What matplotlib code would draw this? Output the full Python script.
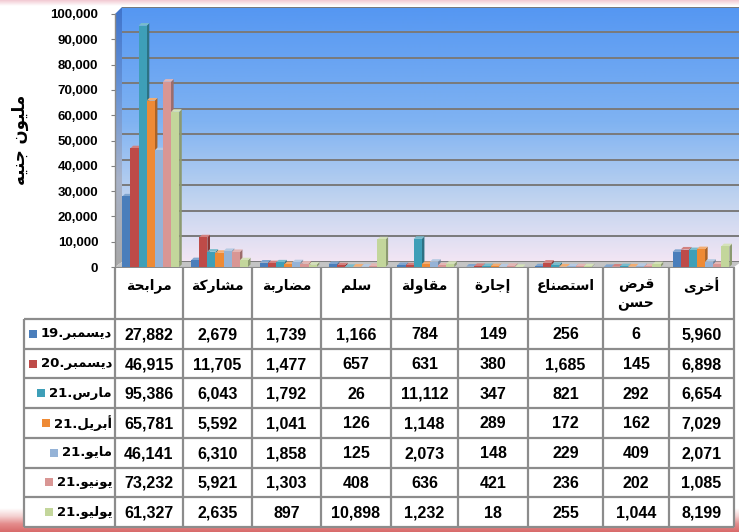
import numpy as np
import matplotlib
matplotlib.use("Agg")
import matplotlib.pyplot as plt
from matplotlib.patches import Polygon, Rectangle
from matplotlib.colors import LinearSegmentedColormap, to_rgb
from matplotlib.ticker import FuncFormatter


# data (million EGP), one list per month, categories in table order
categories = ['مرابحة', 'مشاركة', 'مضاربة', 'سلم', 'مقاولة', 'إجارة', 'استصناع', 'قرض حسن', 'أخرى']
months = ['ديسمبر', 'ديسمبر', 'مارس', 'أبريل', 'مايو', 'يونيو', 'يوليو']
years = ['19', '20', '21', '21', '21', '21', '21']

dec19 = [27882, 2679, 1739, 1166, 784, 149, 256, 6, 5960]
dec20 = [46915, 11705, 1477, 657, 631, 380, 1685, 145, 6898]
mar21 = [95386, 6043, 1792, 26, 11112, 347, 821, 292, 6654]
apr21 = [65781, 5592, 1041, 126, 1148, 289, 172, 162, 7029]
may21 = [46141, 6310, 1858, 125, 2073, 148, 229, 409, 2071]
jun21 = [73232, 5921, 1303, 408, 636, 421, 236, 202, 1085]
jul21 = [61327, 2635, 897, 10898, 1232, 18, 255, 1044, 8199]
series = [dec19, dec20, mar21, apr21, may21, jun21, jul21]

colors = ['#4A7EBB', '#BE4B48', '#3E9FB8', '#EE8A35', '#95B3D7', '#D99694', '#C3D69B']
ylabel = 'مليون جنيه'


# matplotlib does no arabic shaping, so pick presentation forms by hand
FORMS = {
    'ا': ('\uFE8D', '\uFE8E', None, None),
    'أ': ('\uFE83', '\uFE84', None, None),
    'إ': ('\uFE87', '\uFE88', None, None),
    'ب': ('\uFE8F', '\uFE90', '\uFE91', '\uFE92'),
    'ة': ('\uFE93', '\uFE94', None, None),
    'ت': ('\uFE95', '\uFE96', '\uFE97', '\uFE98'),
    'ج': ('\uFE9D', '\uFE9E', '\uFE9F', '\uFEA0'),
    'ح': ('\uFEA1', '\uFEA2', '\uFEA3', '\uFEA4'),
    'خ': ('\uFEA5', '\uFEA6', '\uFEA7', '\uFEA8'),
    'د': ('\uFEA9', '\uFEAA', None, None),
    'ر': ('\uFEAD', '\uFEAE', None, None),
    'س': ('\uFEB1', '\uFEB2', '\uFEB3', '\uFEB4'),
    'ش': ('\uFEB5', '\uFEB6', '\uFEB7', '\uFEB8'),
    'ص': ('\uFEB9', '\uFEBA', '\uFEBB', '\uFEBC'),
    'ض': ('\uFEBD', '\uFEBE', '\uFEBF', '\uFEC0'),
    'ع': ('\uFEC9', '\uFECA', '\uFECB', '\uFECC'),
    'ق': ('\uFED5', '\uFED6', '\uFED7', '\uFED8'),
    'ك': ('\uFED9', '\uFEDA', '\uFEDB', '\uFEDC'),
    'ل': ('\uFEDD', '\uFEDE', '\uFEDF', '\uFEE0'),
    'م': ('\uFEE1', '\uFEE2', '\uFEE3', '\uFEE4'),
    'ن': ('\uFEE5', '\uFEE6', '\uFEE7', '\uFEE8'),
    'ه': ('\uFEE9', '\uFEEA', '\uFEEB', '\uFEEC'),
    'و': ('\uFEED', '\uFEEE', None, None),
    'ى': ('\uFEEF', '\uFEF0', None, None),
    'ي': ('\uFEF1', '\uFEF2', '\uFEF3', '\uFEF4'),
}


def shape(word):
    out = []
    for i, c in enumerate(word):
        if c not in FORMS:
            out.append(c)
            continue
        prev = word[i - 1] if i > 0 else None
        nxt = word[i + 1] if i < len(word) - 1 else None
        jp = prev in FORMS and FORMS[prev][2] is not None
        jn = FORMS[c][2] is not None and nxt in FORMS
        iso, fin, ini, med = FORMS[c]
        if jp and jn:
            out.append(med)
        elif jp:
            out.append(fin)
        elif jn:
            out.append(ini)
        else:
            out.append(iso)
    return ''.join(reversed(out))


AR = dict(family='DejaVu Sans', weight='bold')
NUM = dict(family='Liberation Sans', weight='bold')

W, H = 739, 532
fig = plt.figure(figsize=(W / 100, H / 100), dpi=100, facecolor='white')


def frac(l, t, r, b):
    return [l / W, 1 - b / H, (r - l) / W, (b - t) / H]


# back wall with gradient + gridlines
bg = fig.add_axes(frac(122, 7, 741, 262), zorder=0)
cmap = LinearSegmentedColormap.from_list('wall', [(0, '#5597f2'), (0.45, '#80b3f2'),
                                                   (0.75, '#bfd3ef'), (1.0, '#f3e6f4')])
bg.imshow(np.linspace(0, 1, 256).reshape(-1, 1), cmap=cmap, aspect='auto',
          extent=[0, 1, 0, 100000], origin='upper')
bg.set_xlim(0, 1)
bg.set_ylim(0, 100000)
for v in range(0, 100001, 10000):
    bg.axhline(v, color='#7a7a7a', lw=1.4)
bg.axis('off')

# decorations in pixel space: side wall, floor, slide bands
deco = fig.add_axes([0, 0, 1, 1], zorder=1)
deco.set_xlim(0, W)
deco.set_ylim(H, 0)
deco.axis('off')

grad = np.linspace(0, 1, 256).reshape(-1, 1)
wallc = LinearSegmentedColormap.from_list('side', ['#3f74cc', '#6a95d6', '#a9b3c8', '#a8a8a8'])
im = deco.imshow(grad, cmap=wallc, aspect='auto', extent=[115, 122, 267, 7])
im.set_clip_path(Polygon([(115, 14), (122, 7), (122, 262), (115, 267)], closed=True,
                         transform=deco.transData))
deco.add_patch(Polygon([(115, 267), (734, 267), (741, 262), (122, 262)], closed=True,
                       fc='#c4c4c4', ec='none'))

topc = LinearSegmentedColormap.from_list('top', ['#f2c9d2', '#ffffff'])
deco.imshow(np.linspace(0, 1, 32).reshape(-1, 1), cmap=topc, aspect='auto',
            extent=[0, W, 6, 0])
botc = LinearSegmentedColormap.from_list('bot', ['#ffffff', '#f4d2d2', '#e48c8c', '#d86a6a'])
deco.imshow(np.linspace(0, 1, 64).reshape(-1, 1), cmap=botc, aspect='auto',
            extent=[0, W, H, 508])
deco.set_xlim(0, W)
deco.set_ylim(H, 0)

deco.text(20, 140, shape(ylabel), rotation=90, ha='center', va='center', fontsize=12, **AR)

# front plane: the bars
ax = fig.add_axes(frac(115, 14, 734, 267), zorder=2)
ax.set_facecolor('none')
ax.set_xlim(-0.5, len(categories) - 0.5)
ax.set_ylim(0, 100000)
ax.set_xticks([])
ax.set_yticks(range(0, 100001, 10000))
ax.yaxis.set_major_formatter(FuncFormatter(lambda v, p: f'{int(v):,}'))
for lab in ax.get_yticklabels():
    lab.set_fontfamily('Liberation Sans')
    lab.set_fontweight('bold')
    lab.set_fontsize(9.5)
ax.tick_params(axis='y', length=3, color='#808080', pad=9)
for s in ['top', 'right']:
    ax.spines[s].set_visible(False)
ax.spines['left'].set_color('#8a8a8a')
ax.spines['bottom'].set_color('#8a8a8a')
ax.spines['left'].set_linewidth(1)

bw = 0.118
px_x = (len(categories)) / 619.0
px_y = 100000 / 253.0
ddx, ddy = 2.6 * px_x, 2.6 * px_y
xs = np.arange(len(categories))


def shade(c, f):
    r = np.array(to_rgb(c))
    return tuple(r * f) if f < 1 else tuple(r + (1 - r) * (f - 1))


for j, vals in enumerate(series):
    xc = xs + (j - 3) * bw + 0.02
    z = 3 + j * 0.1
    for x, v in zip(xc, vals):
        ax.add_patch(Polygon([(x + bw / 2, 0), (x + bw / 2 + ddx, ddy), (x + bw / 2 + ddx, v + ddy),
                              (x + bw / 2, v)], closed=True, fc=shade(colors[j], 0.72),
                             ec='none', zorder=z - 0.05, clip_on=False))
        ax.add_patch(Polygon([(x - bw / 2, v), (x + bw / 2, v), (x + bw / 2 + ddx, v + ddy),
                              (x - bw / 2 + ddx, v + ddy)], closed=True, fc=shade(colors[j], 1.3),
                             ec='none', zorder=z - 0.05, clip_on=False))
    ax.bar(xc, vals, width=bw, color=colors[j], zorder=z, clip_on=False)

# data table
tab = fig.add_axes([0, 0, 1, 1], zorder=3)
tab.set_xlim(0, W)
tab.set_ylim(H, 0)
tab.axis('off')

cols = [24, 115, 183, 252, 321, 391, 458, 528, 603, 669, 734]
rows = np.linspace(319, 527, len(series) + 1)
lc, lw = '#8c8c8c', 1.6

tab.add_patch(Rectangle((24, 319), 710, 208, fc='white', ec='none'))
tab.add_patch(Rectangle((115, 268), 619, 51, fc='white', ec='none'))
for y in rows:
    tab.plot([24, 734], [y, y], color=lc, lw=lw, solid_capstyle='butt')
for i, x in enumerate(cols):
    top = 319 if i == 0 else 268
    tab.plot([x, x], [top, 527], color=lc, lw=lw, solid_capstyle='butt')

for i, name in enumerate(categories):
    cx = (cols[i + 1] + cols[i + 2]) / 2
    words = name.split(' ')
    if len(words) > 1:
        tab.text(cx, 285, shape(words[0]), ha='center', va='center', fontsize=10, **AR)
        tab.text(cx, 304, shape(words[1]), ha='center', va='center', fontsize=10, **AR)
    else:
        tab.text(cx, 286, shape(name), ha='center', va='center', fontsize=10, **AR)

fig.canvas.draw()
rend = fig.canvas.get_renderer()
for j, vals in enumerate(series):
    cy = (rows[j] + rows[j + 1]) / 2
    t = tab.text(112, cy, years[j] + '.' + shape(months[j]), ha='right', va='center',
                 fontsize=9.5, family=['DejaVu Sans'], weight='bold')
    bb = t.get_window_extent(rend)
    x0 = bb.x0 - 4
    tab.add_patch(Rectangle((x0 - 8, cy - 4), 8, 8, fc=colors[j], ec='none'))
    for i, v in enumerate(vals):
        cx = (cols[i + 1] + cols[i + 2]) / 2
        tab.text(cx, cy + 1, f'{v:,}', ha='center', va='center', fontsize=11.5, **NUM)

fig.savefig('out.png', dpi=100)
